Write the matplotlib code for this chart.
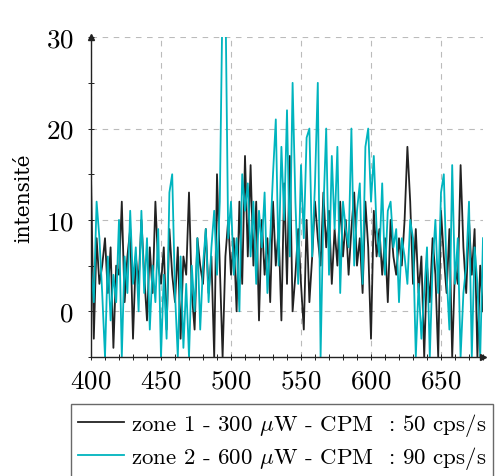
import numpy as np
import matplotlib
matplotlib.use("Agg")
import matplotlib.pyplot as plt

wavelength = list(range(400, 681, 2))

zone1 = [15, -3, 8, 3, 5, 8, 2, 7, -4, 5,
         4, 12, 1, 6, 9, -3, 6, 3, 10, 4,
         -1, 7, 2, 12, 5, 3, 7, -2, 9, 4,
         1, 7, -3, 6, 4, 13, 2, -2, 8, 5,
         3, 9, 2, 6, -5, 15, 5, -5, 6, 10,
         4, 8, 0, 12, 3, 17, 6, 16, 5, 12,
         -1, 10, 4, 8, 1, 12, 5, 9, -1, 14,
         3, 17, 0, 4, 9, 3, -2, 10, 1, 6,
         12, 8, 5, 13, 7, 11, 3, 9, 5, 12,
         6, 10, 4, 9, 13, 5, 8, 2, 12, 7,
         -3, 11, 6, 9, 4, 8, 1, 10, 6, 4,
         8, 5, 10, 18, 12, 3, 9, 2, 6, -5,
         5, 1, 8, 4, -5, 11, 6, 2, 9, -5,
         5, 3, 16, 7, 2, 10, 4, 9, -5, 5,
         0]

zone2 = [5, 1, 12, 8, 2, -5, 6, -1, 4, 1,
         10, -5, 6, 2, 11, 3, 7, 0, 11, 2,
         8, -2, 5, 1, 9, -5, 4, -3, 13, 15,
         2, -5, 6, -4, 3, -5, 5, 0, 8, -2,
         5, 9, 1, 7, 11, 4, 12, 35, 35, 8,
         12, 4, 8, 0, 15, 11, 14, 6, 12, 3,
         11, 7, 13, 2, 8, 15, 21, 5, 18, 10,
         22, 6, 25, 12, 3, 16, 8, 19, 20, 6,
         14, 25, -5, 11, 20, 4, 17, 9, 18, 2,
         12, 9, 7, 20, 5, 11, 14, 3, 18, 20,
         12, 17, 9, 6, 14, 4, 11, 12, 7, 9,
         1, 8, 6, 3, 10, 8, -5, 3, -3, 2,
         7, -5, 5, 10, 2, 13, 15, 4, -2, 16,
         3, 8, -5, 2, 5, 12, -5, 7, 3, -5,
         8]

labels = [r"zone 1 - 300 $\mu$W - CPM  : 50 cps/s",
          r"zone 2 - 600 $\mu$W - CPM  : 90 cps/s"]
colors = ["#222222", "#00B4BE"]

plt.rcParams["font.family"] = ["cmr10", "DejaVu Serif"]
plt.rcParams["mathtext.fontset"] = "cm"
plt.rcParams["axes.formatter.use_mathtext"] = True

fig = plt.figure(figsize=(5.0, 4.77), dpi=100)
ax = fig.add_axes([0.182, 0.2495, 0.784, 0.6705])

for ys, c, lab in zip([zone1, zone2], colors, labels):
    ax.plot(wavelength, ys, color=c, lw=1.3, label=lab)

ax.set_xlim(400, 680)
ax.set_ylim(-5, 30)
ax.set_xticks([400, 450, 500, 550, 600, 650])
ax.set_xticks(np.arange(400, 681, 10), minor=True)
ax.set_yticks([0, 10, 20, 30])
ax.set_yticks(np.arange(-5, 31, 5), minor=True)
ax.grid(True, which="major", ls=(0, (5, 5)), color="#bbbbbb", lw=0.8)
for s in ["top", "right"]:
    ax.spines[s].set_visible(False)
for s in ["left", "bottom"]:
    ax.spines[s].set_linewidth(1.0)
    ax.spines[s].set_color("#222222")
ax.tick_params(which="both", direction="inout", length=5, width=0.7, colors="#222222",
               labelcolor="black", labelsize=19.5)
ax.tick_params(axis="y", pad=10)
ax.tick_params(axis="x", pad=6)

ax.plot(0, 1, marker="^", ms=5, color="#222222", transform=ax.transAxes, clip_on=False)
ax.plot(1, 0, marker=">", ms=5, color="#222222", transform=ax.transAxes, clip_on=False)

ax.set_ylabel("intensité", fontsize=14.5, family=["DejaVu Serif"], labelpad=9)

leg = fig.legend(loc="upper left", bbox_to_anchor=(71 / 500, 1 - 405 / 477),
                 fontsize=16.5, frameon=True, fancybox=False, handlelength=2.0,
                 handletextpad=0.3, borderpad=0.3, labelspacing=0.25,
                 borderaxespad=0)
leg.get_frame().set_edgecolor("#444444")
leg.get_frame().set_linewidth(1.0)

fig.savefig("out.png", dpi=100)
